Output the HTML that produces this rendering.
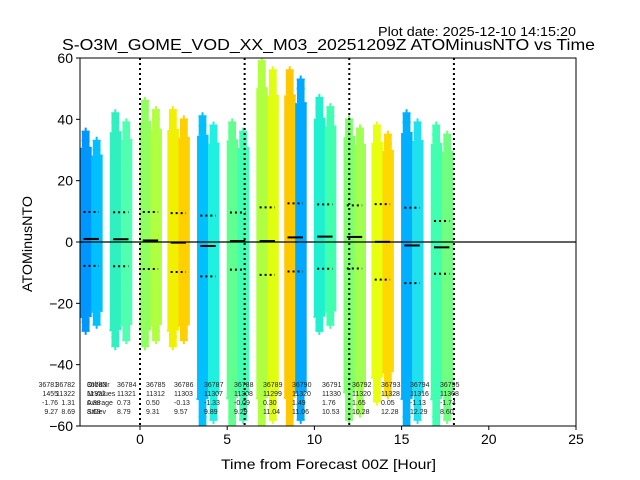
<!DOCTYPE html>
<html><head><meta charset="utf-8"><style>
body{margin:0;background:#fff}
svg{display:block;font-family:"Liberation Sans","DejaVu Sans",sans-serif}
</style></head><body>
<svg id="chart" width="640" height="480" viewBox="0 0 640 480">
<text x="378" y="36" font-size="13" textLength="198" lengthAdjust="spacingAndGlyphs">Plot date: 2025-12-10 14:15:20</text>
<text x="62" y="50" font-size="16" textLength="533" lengthAdjust="spacingAndGlyphs">S-O3M_GOME_VOD_XX_M03_20251209Z ATOMinusNTO vs Time</text>
<g id="plot"></g>
<g id="axes"></g>
<text x="221" y="469" font-size="14" textLength="215" lengthAdjust="spacingAndGlyphs">Time from Forecast 00Z [Hour]</text>
<text x="32" y="244" font-size="14" text-anchor="middle" textLength="96" lengthAdjust="spacingAndGlyphs" transform="rotate(-90 32 244)">ATOMinusNTO</text>
</svg>
<script>
const times=[-2.8,-1.1,0.6,2.2,3.9,5.6,7.3,8.9,10.6,12.3,13.9,15.6,17.3];
const means=[1.0,0.9,0.5,-0.2,-1.3,0.3,0.3,1.5,1.76,1.65,0.05,-1.13,-1.74];
const stds=[8.8,8.8,9.3,9.6,9.9,9.3,11.0,11.1,10.5,10.3,12.3,12.3,8.6];
const maxs=[36,42,46,43,41,39,59,56,47,40,38,42,38];
const mins=[-29,-34,-34,-34,-60,-60,-60,-60,-29,-58,-52,-60,-60];
const colA=['#0096ff','#30f0c0','#90ff60','#f0f000','#00c0ff','#60ff90','#b0ff40','#ffc800','#20f0d0','#80ff70','#e8ff10','#00b0ff','#40ffb0'];
const colB=['#00c0ff','#50ffb0','#b0ff40','#ffd000','#20f0e0','#40ffb0','#e0ff10','#00a8ff','#40ffb0','#a0ff50','#ffd800','#20e0f0','#70ff80'];
const vlines=[0,6,12,18];
const xTicks=[0,5,10,15,20,25];
const yTicks=[-60,-40,-20,0,20,40,60];
const orbitNrs=['36781','36782','36783','36784','36785','36786','36787','36788','36789','36790','36791','36792','36793','36794','36795'];
const nrValues=['1455','11322','11322','11321','11312','11303','11307','11308','11299','11320','11330','11320','11328','11316','11308'];
const avgs=['-1.76','1.31','0.88','0.73','0.50','-0.13','-1.33','-0.09','0.30','1.49','1.76','1.65','0.05','-1.13','-1.74'];
const stdTxt=['9.27','8.69','8.69','8.79','9.31','9.57','9.89','9.29','11.04','11.06','10.53','10.28','12.28','12.29','8.60'];
const textX=[58,75,87,117,146,174,204,234,263,292,322,352,381,410,440];

const L=80,R=576,T=58,B=426,XMIN=-3.44,XMAX=25,YMIN=-60,YMAX=60;
const sx=v=>L+(v-XMIN)/(XMAX-XMIN)*(R-L);
const sy=v=>B-(v-YMIN)/(YMAX-YMIN)*(B-T);
const NS='http://www.w3.org/2000/svg';
const plot=document.getElementById('plot'),axes=document.getElementById('axes');
function mk(tag,attrs,parent){const e=document.createElementNS(NS,tag);for(const k in attrs)e.setAttribute(k,attrs[k]);parent.appendChild(e);return e;}
const clip=mk('clipPath',{id:'cp'},plot);mk('rect',{x:L,y:T,width:R-L,height:B-T},clip);
const g=mk('g',{'clip-path':'url(#cp)'},plot);
const hw=0.63;
function plus(x,y,c,p){const s=4;mk('path',{d:`M${x-s},${y}H${x+s}M${x},${y-s}V${y+s}`,stroke:c,'stroke-width':2},p);}
times.forEach((t,i)=>{
  const grp=mk('g',{},g);
  
  
  [[t-hw,t,colA[i]],[t,t+hw,colB[i]]].forEach(([a,b,c],k)=>{
    const top=maxs[i]-(k?3:0),bot=mins[i]+(k?2:0);
    const hi=means[i]+(top-means[i])*0.85,lo=means[i]+(bot-means[i])*0.85;
    mk('rect',{x:sx(a),y:sy(hi),width:sx(b)-sx(a)+0.5,height:sy(lo)-sy(hi),fill:c},grp);
    const xa=sx(a)+(sx(b)-sx(a))*0.15,w=(sx(b)-sx(a))*0.7;
    mk('rect',{x:xa,y:sy(top),width:w,height:sy(hi)-sy(top),fill:c},grp);
    mk('rect',{x:xa,y:sy(lo),width:w,height:sy(bot)-sy(lo),fill:c},grp);
    const cx=(sx(a)+sx(b))/2;
    plus(cx,sy(top),c,grp);plus(cx,sy(top-3),c,grp);plus(cx+2,sy(hi),c,grp);
    plus(cx,sy(bot),c,grp);plus(cx,sy(bot+3),c,grp);plus(cx-2,sy(lo),c,grp);
  });
  const m=mk('line',{x1:sx(t-hw*0.7),x2:sx(t+hw*0.7),y1:sy(means[i]),y2:sy(means[i]),stroke:'#000','stroke-width':2},g);
  
  
  [1,-1].forEach(sg=>{
    const d=mk('line',{x1:sx(t-hw*0.7),x2:sx(t+hw*0.7),y1:sy(means[i]+sg*stds[i]),y2:sy(means[i]+sg*stds[i]),stroke:'#000','stroke-width':2,'stroke-dasharray':'2,3'},g);
    
    
  });
});
const z=mk('line',{x1:L,x2:R,y1:sy(0),y2:sy(0),stroke:'#000','stroke-width':1.2},plot);


vlines.forEach(v=>{
  const l=mk('line',{x1:sx(v),x2:sx(v),y1:T,y2:B,stroke:'#000','stroke-width':2,'stroke-dasharray':'2,3'},plot);
  
  
});
const rows=[orbitNrs,nrValues,avgs,stdTxt];
rows.forEach((arr,r)=>arr.forEach((s,i)=>{
  const tx=mk('text',{x:textX[i],y:387+r*9,'font-size':7,fill:'#222','text-anchor':i<2?'end':'start'},plot);
  tx.textContent=s;
  
  
}));
['OrbitNr','NrValues','Average','StDev'].forEach((s,r)=>{
  const tx=mk('text',{x:87,y:387+r*9,'font-size':7,fill:'#222'},plot);
  tx.textContent=s;
  
  
});
const fr=mk('rect',{x:L,y:T,width:R-L,height:B-T,fill:'none',stroke:'#000','stroke-width':1},axes);


xTicks.forEach(v=>{
  mk('line',{x1:sx(v),x2:sx(v),y1:B,y2:B+4,stroke:'#000'},axes);
  const tx=mk('text',{x:sx(v),y:B+18,'font-size':14,'text-anchor':'middle'},axes);
  tx.textContent=v;
  
  
});
yTicks.forEach(v=>{
  mk('line',{x1:L-4,x2:L,y1:sy(v),y2:sy(v),stroke:'#000'},axes);
  const tx=mk('text',{x:L-7,y:sy(v)+5,'font-size':14,'text-anchor':'end'},axes);
  tx.textContent=v<0?'\u2212'+(-v):v;
  
  
});
</script>
</body></html>
